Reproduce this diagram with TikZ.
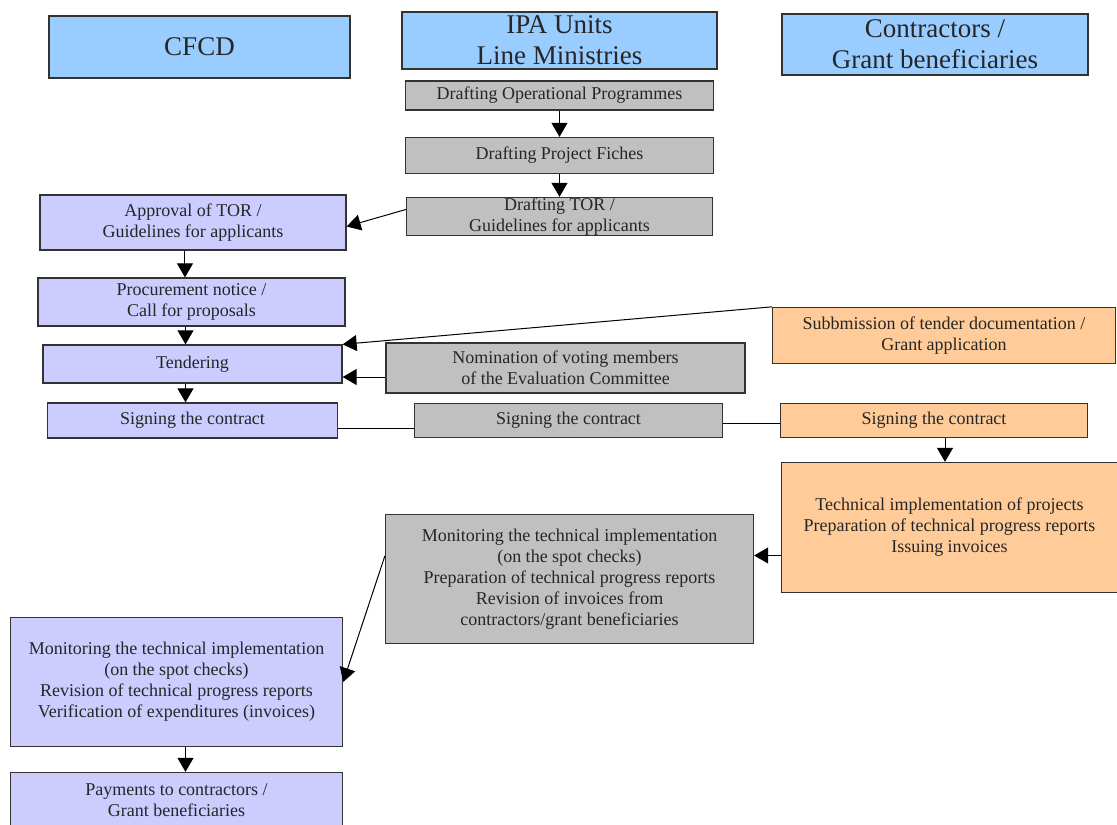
\documentclass[tikz,border=0pt]{standalone}
\usepackage{fontspec}
\setmainfont{Liberation Serif}
\usetikzlibrary{shapes.geometric, arrows.meta}

\definecolor{hdrblue}{RGB}{153,204,255}
\definecolor{cfcdblue}{RGB}{204,204,255}
\definecolor{ipagray}{RGB}{192,192,192}
\definecolor{controrange}{RGB}{255,204,153}

\tikzstyle{header} = [rectangle, draw=black!80, line width=1.3pt, fill=hdrblue, text centered, align=center, inner sep=0pt, text=black!85, font=\fontsize{27}{31}\selectfont]
\tikzstyle{cfcdproc} = [rectangle, draw=black!80, line width=1.3pt, fill=cfcdblue, text centered, align=center, inner sep=0pt, text=black!85, font=\fontsize{18}{21}\selectfont]
\tikzstyle{ipaproc} = [cfcdproc, fill=ipagray]
\tikzstyle{contrproc} = [cfcdproc, fill=controrange]
\tikzstyle{flow} = [-{Triangle[length=14pt, width=16pt]}, line width=1pt]

\begin{document}
\begin{tikzpicture}[node distance=60pt]
      \useasboundingbox (-199.5pt,47pt) rectangle (917.5pt,-778pt);

      \node (cfcd) [header, minimum width=301pt, minimum height=62pt] {CFCD};
      \node (ipa) [header, right of=cfcd, xshift=300pt, yshift=6.5pt, minimum width=315pt, minimum height=57pt] {IPA Units\\Line Ministries};
      \node (contr) [header, right of=ipa, xshift=315.5pt, yshift=-4pt, minimum width=306pt, minimum height=61pt] {Contractors /\\Grant beneficiaries};

      \node (dop) [ipaproc, below of=ipa, yshift=5pt, minimum width=308pt, minimum height=29pt] {Drafting Operational Programmes};
      \node (dpf) [ipaproc, below of=dop, minimum width=308pt, minimum height=36pt] {Drafting Project Fiches};
      \node (dtor) [ipaproc, below of=dpf, yshift=-1pt, minimum width=306pt, minimum height=38pt] {Drafting TOR /\\Guidelines for applicants};

      \node (appr) [cfcdproc, below of=cfcd, xshift=-6.5pt, yshift=-115.5pt, minimum width=306pt, minimum height=55pt] {Approval of TOR /\\Guidelines for applicants};
      \node (proc) [cfcdproc, below of=appr, xshift=-1.5pt, yshift=-19.5pt, minimum width=307pt, minimum height=48pt] {Procurement notice /\\Call for proposals};
      \node (tend) [cfcdproc, below of=proc, xshift=1pt, yshift=-2pt, minimum width=299pt, minimum height=38pt] {Tendering};
      \node (lsign) [cfcdproc, below of=tend, yshift=3.5pt, minimum width=290pt, minimum height=35pt] {Signing the contract};

      \node (nom) [ipaproc, right of=tend, xshift=313pt, yshift=-4pt, minimum width=359pt, minimum height=50pt] {Nomination of voting members\\of the Evaluation Committee};
      \node (msign) [ipaproc, right of=lsign, xshift=316pt, minimum width=308pt, minimum height=34pt] {Signing the contract};
      \node (rsign) [contrproc, right of=msign, xshift=305.5pt, minimum width=307pt, minimum height=34pt] {Signing the contract};
      \node (subm) [contrproc, above of=rsign, xshift=10pt, yshift=25pt, minimum width=343pt, minimum height=56pt] {Subbmission of tender documentation /\\Grant application};
      \node (tech) [contrproc, below of=rsign, xshift=15.5pt, yshift=-47pt, minimum width=336pt, minimum height=130pt] {Technical implementation of projects\\Preparation of technical progress reports\\Issuing invoices};

      \node (mgray) [ipaproc, left of=tech, xshift=-320pt, yshift=-51.5pt, minimum width=368pt, minimum height=129pt] {Monitoring the technical implementation\\(on the spot checks)\\Preparation of technical progress reports\\Revision of invoices from\\contractors/grant beneficiaries};
      \node (mblue) [cfcdproc, left of=mgray, xshift=-333pt, yshift=-103pt, minimum width=332pt, minimum height=129pt] {Monitoring the technical implementation\\(on the spot checks)\\Revision of technical progress reports\\Verification of expenditures (invoices)};
      \node (pay) [cfcdproc, below of=mblue, yshift=-65.5pt, minimum width=332pt, minimum height=70pt, text depth=14pt] {Payments to contractors /\\Grant beneficiaries};

      \draw [flow] (dop.south) -- (dop.south |- dpf.north);
      \draw [flow] (dpf.south) -- (dpf.south |- dtor.north);
      \draw [flow] ([yshift=7pt]dtor.west) -- ([yshift=-4pt]appr.east);

      \draw [flow] ([xshift=-8pt]appr.south) -- ([xshift=-8pt]appr.south |- proc.north);
      \draw [flow] ([xshift=-6pt]proc.south) -- ([xshift=-6pt]proc.south |- tend.north);
      \draw [flow] ([xshift=-7pt]tend.south) -- ([xshift=-7pt]tend.south |- lsign.north);

      \draw [flow] (subm.north west) -- (tend.north east);
      \draw [flow] ([yshift=-9pt]nom.west) -- ([yshift=-9pt]nom.west -| tend.east);

      \draw [line width=1pt] ([yshift=-8pt]lsign.east) -- ([yshift=-8pt]lsign.east -| msign.west);
      \draw [line width=1pt] ([yshift=-3pt]msign.east) -- ([yshift=-3pt]msign.east -| rsign.west);

      \draw [flow] ([xshift=11pt]rsign.south) -- ([xshift=11pt]rsign.south |- tech.north);
      \draw [flow] ([yshift=-28pt]tech.west) -- ([yshift=-28pt]tech.west -| mgray.east);
      \draw [flow] ([yshift=23pt]mgray.west) -- (mblue.east);
      \draw [flow] ([xshift=9pt]mblue.south) -- ([xshift=9pt]mblue.south |- pay.north);
\end{tikzpicture}
\end{document}
